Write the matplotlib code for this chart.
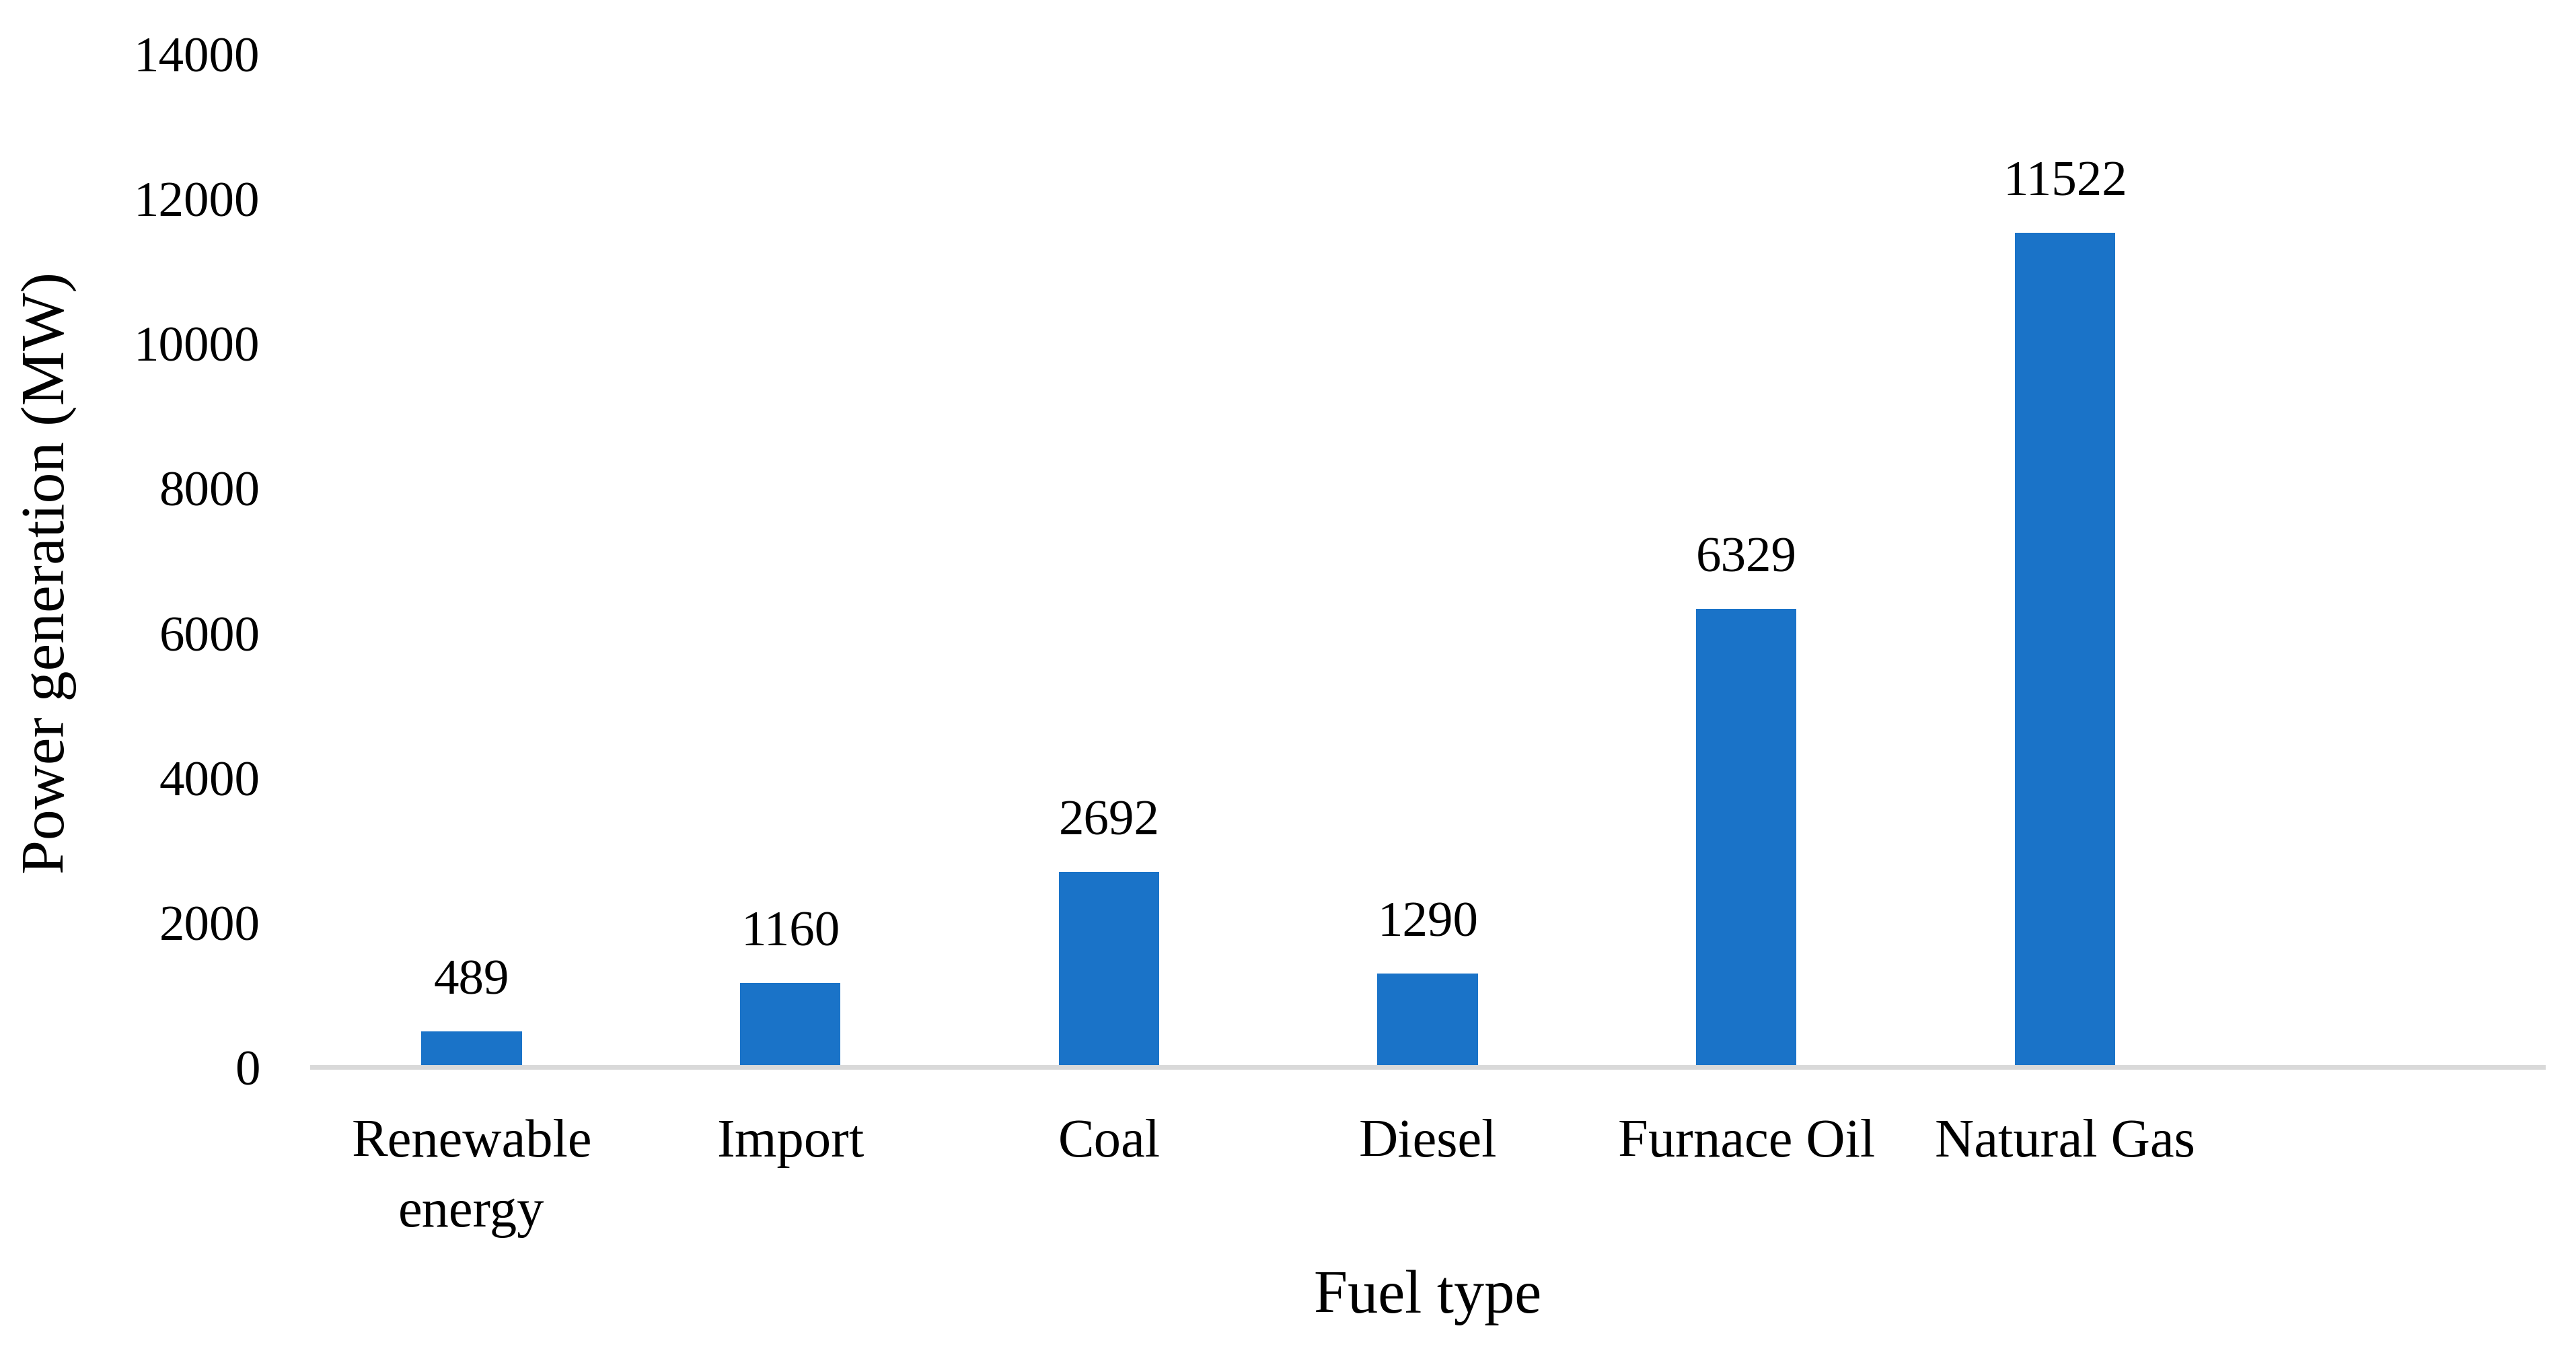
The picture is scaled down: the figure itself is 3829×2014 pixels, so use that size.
import matplotlib
matplotlib.use("Agg")
import matplotlib.pyplot as plt

# Data
fuel_types = ["Renewable\nenergy", "Import", "Coal", "Diesel", "Furnace Oil", "Natural Gas"]
power_mw = [489, 1160, 2692, 1290, 6329, 11522]
y_ticks = [0, 2000, 4000, 6000, 8000, 10000, 12000, 14000]

plt.rcParams['font.family'] = ['Liberation Serif', 'DejaVu Serif']

fig = plt.figure(figsize=(38.29, 20.15), dpi=100)
ax = fig.add_axes([0.1212, 0.2124, 0.866, 0.7476])

positions = list(range(len(fuel_types)))
ax.bar(positions, power_mw, width=0.315, color='#1A73C8', zorder=1)

# Value labels above the bars
for x, v in zip(positions, power_mw):
    ax.annotate(str(v), xy=(x, v), xytext=(0, 41), textcoords='offset points',
                ha='center', va='baseline', fontsize=54, color='black')

ax.set_xlim(-0.5, 6.5)
ax.set_ylim(0, 14000)
ax.set_yticks(y_ticks)
ax.set_yticklabels([str(t) for t in y_ticks], fontsize=54)
ax.set_xticks(positions)
ax.set_xticklabels(fuel_types, fontsize=58, linespacing=1.55)
ax.tick_params(axis='y', length=0, pad=56)
ax.tick_params(axis='x', length=0, pad=55)

# Only the bottom axis line, light gray
for side in ['top', 'right', 'left']:
    ax.spines[side].set_visible(False)
ax.spines['bottom'].set_color('#D9D9D9')
ax.spines['bottom'].set_linewidth(5)

ax.set_xlabel("Fuel type", fontsize=65)
ax.xaxis.label.set_va('center')
ax.xaxis.set_label_coords(0.5, -0.227)
ax.set_ylabel("Power generation (MW)", fontsize=66)
ax.yaxis.label.set_va('center')
ax.yaxis.set_label_coords(-0.118, 0.488)

fig.savefig("out.png", dpi=100, facecolor='white')
